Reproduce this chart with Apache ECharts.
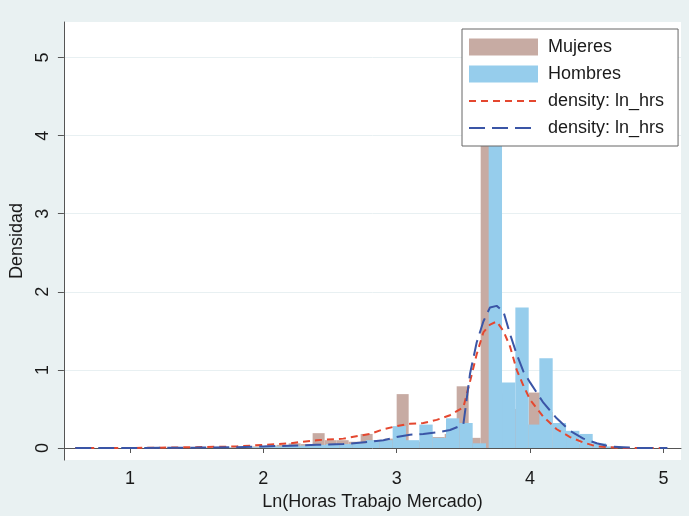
<!DOCTYPE html>
<html>
<head>
  <meta charset="UTF-8">
  <title>Densidad</title>
  <script type="text/javascript" src="https://cdn.jsdelivr.net/npm/echarts@6/dist/echarts.min.js"></script>
  <style type="text/css">
    *{ margin: 0; padding: 0; }
    body{ background: #e9f1f2; }
    #main{ width: 689px; height: 516px; }
  </style>
</head>
<body>
  <div id="main"></div>
  <script type="text/javascript">
    // histograma Mujeres: borde izquierdo de cada barra, ancho y altura
    var mujWidth = 0.09;
    var mujLeft = [1.92, 2.01, 2.10, 2.19, 2.28, 2.37, 2.46, 2.55, 2.64, 2.73, 2.82, 2.91, 3.00, 3.09, 3.18,
                   3.27, 3.36, 3.45, 3.54, 3.63, 3.72, 3.81, 3.90, 3.99, 4.08, 4.17, 4.26, 4.35, 4.44];
    var mujH    = [0.02, 0.03, 0.04, 0.06, 0.05, 0.19, 0.10, 0.10, 0.08, 0.18, 0.10, 0.12, 0.69, 0.08, 0.15,
                   0.14, 0.18, 0.79, 0.13, 5.30, 0.70, 0.50, 0.30, 0.71, 0.46, 0.10, 0.15, 0.05, 0.03];

    // histograma Hombres
    var homWidth = 0.1;
    var homLeft = [1.57, 1.67, 1.77, 1.87, 1.97, 2.07, 2.17, 2.27, 2.37, 2.47, 2.57, 2.67, 2.77, 2.87, 2.97,
                   3.07, 3.17, 3.27, 3.37, 3.47, 3.57, 3.69, 3.79, 3.89, 3.99, 4.07, 4.17, 4.27, 4.37, 4.47, 4.57];
    var homH    = [0.005, 0.01, 0.01, 0.01, 0.02, 0.02, 0.03, 0.03, 0.04, 0.05, 0.05, 0.06, 0.10, 0.10, 0.28,
                   0.10, 0.30, 0.13, 0.38, 0.32, 0.06, 4.60, 0.84, 1.80, 0.30, 1.15, 0.32, 0.22, 0.18, 0.06, 0.02];

    // densidades (kernel)
    var densX   = [0.59, 1.0, 1.5, 1.8, 2.0, 2.2, 2.4, 2.6, 2.8, 2.9, 3.0, 3.1, 3.2, 3.3, 3.4, 3.5, 3.55, 3.6,
                   3.65, 3.7, 3.75, 3.8, 3.85, 3.9, 3.95, 4.0, 4.1, 4.2, 4.3, 4.4, 4.5, 4.6, 4.7, 4.8, 5.03];
    var densMuj = [0, 0, 0.01, 0.02, 0.04, 0.06, 0.10, 0.12, 0.18, 0.24, 0.28, 0.31, 0.32, 0.36, 0.42, 0.52, 0.85, 1.20,
                   1.48, 1.58, 1.62, 1.50, 1.30, 1.00, 0.80, 0.62, 0.40, 0.24, 0.14, 0.07, 0.02, 0.01, 0, 0, 0];
    var densHom = [0, 0, 0.005, 0.01, 0.02, 0.03, 0.04, 0.05, 0.08, 0.10, 0.14, 0.17, 0.18, 0.20, 0.23, 0.30, 0.95, 1.35,
                   1.62, 1.80, 1.82, 1.75, 1.46, 1.20, 0.98, 0.84, 0.58, 0.38, 0.22, 0.12, 0.06, 0.02, 0.01, 0, 0];

    var xTicks = [1, 2, 3, 4, 5];
    var yTicks = [0, 1, 2, 3, 4, 5];

    function bins(left, w, h){
      return left.map(function(l, i){ return [l, l + w, h[i]]; });
    }
    function pairs(xs, ys){
      return xs.map(function(x, i){ return [x, ys[i]]; });
    }
    function barra(params, api){
      var p0 = api.coord([api.value(0), 0]);
      var p1 = api.coord([api.value(1), api.value(2)]);
      return { type: 'rect',
               shape: { x: p0[0], y: p1[1], width: p1[0] - p0[0], height: p0[1] - p1[1] },
               style: api.style() };
    }

    var font = 'Liberation Sans';
    var myChart = echarts.init(document.getElementById('main'));
    var option = {
      backgroundColor: '#e9f1f2',
      textStyle: { fontFamily: font },
      grid: { left: 61, right: 8, top: 22, bottom: 48, show: true, backgroundColor: '#fff', borderWidth: 0 },
      legend: {
        orient: 'vertical', left: 462, top: 29,
        padding: [9, 14, 9, 6],
        itemWidth: 69, itemHeight: 17, itemGap: 9,
        backgroundColor: '#fff', borderColor: '#666', borderWidth: 1, borderRadius: 0,
        textStyle: { fontFamily: font, fontSize: 18, color: '#1a1a1a', padding: [0, 0, 0, 5] },
        data: [{ name: 'Mujeres', icon: 'rect' }, { name: 'Hombres', icon: 'rect' },
               { name: 'density: ln_hrs', itemStyle: { opacity: 0 } },
               { name: 'density: ln_hrs\u200b', itemStyle: { opacity: 0 } }]
      },
      xAxis: {
        type: 'value', min: 0.505, max: 5.132,
        name: 'Ln(Horas Trabajo Mercado)', nameLocation: 'middle', nameGap: 30,
        nameTextStyle: { fontFamily: font, fontSize: 18, color: '#1a1a1a' },
        axisLine: { lineStyle: { color: '#555', width: 1 } },
        axisTick: { customValues: xTicks, length: 5, lineStyle: { color: '#555' } },
        axisLabel: { customValues: xTicks, margin: 10, fontFamily: font, fontSize: 18, color: '#1a1a1a' },
        splitLine: { show: false }
      },
      yAxis: {
        type: 'value', min: -0.155, max: 5.455,
        name: 'Densidad', nameLocation: 'middle', nameGap: 29,
        nameTextStyle: { fontFamily: font, fontSize: 18, color: '#1a1a1a' },
        axisLine: { show: true, lineStyle: { color: '#555', width: 1 } },
        axisTick: { show: true, customValues: yTicks, length: 6, lineStyle: { color: '#555' } },
        axisLabel: { customValues: yTicks, rotate: 90, margin: 12, fontFamily: font, fontSize: 18, color: '#1a1a1a' },
        splitLine: { show: true, lineStyle: { color: '#e8f0f2', width: 1 } }
      },
      series: [
        { name: 'Mujeres', type: 'custom', renderItem: barra, clip: true,
          encode: { x: [0, 1], y: 2 }, itemStyle: { color: '#c7aba3' },
          data: bins(mujLeft, mujWidth, mujH), z: 2 },
        { name: 'Hombres', type: 'custom', renderItem: barra, clip: true,
          encode: { x: [0, 1], y: 2 }, itemStyle: { color: '#96cdec' },
          data: bins(homLeft, homWidth, homH), z: 3 },
        { name: 'density: ln_hrs', type: 'line', symbol: 'none', z: 4,
          lineStyle: { color: '#e4472f', width: 2, type: [7, 5] }, itemStyle: { color: '#e4472f' },
          data: pairs(densX, densMuj) },
        { name: 'density: ln_hrs\u200b', type: 'line', symbol: 'none', z: 5,
          lineStyle: { color: '#3a55a6', width: 2, type: [16, 7] }, itemStyle: { color: '#3a55a6' },
          data: pairs(densX, densHom) }
      ]
    };
    myChart.setOption(option);
  </script>
</body>
</html>
